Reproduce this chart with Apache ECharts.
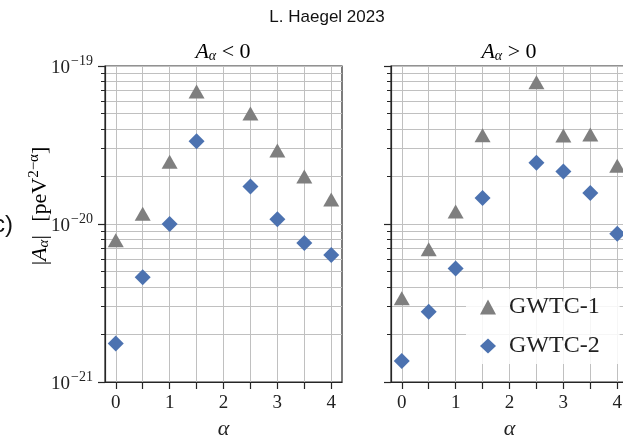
<!DOCTYPE html>
<html>
<head>
<meta charset="utf-8">
<script src="https://cdn.jsdelivr.net/npm/echarts@6/dist/echarts.min.js"></script>
<style>html,body{margin:0;padding:0;background:#fff;}#c{width:623px;height:436px;}</style>
</head>
<body>
<div id="c"></div>
<script>
const alphas = [0, 0.5, 1, 1.5, 2.5, 3, 3.5, 4];
const negGWTC1 = [7.9e-21, 1.16e-20, 2.48e-20, 6.9e-20, 5.0e-20, 2.92e-20, 2.0e-20, 1.43e-20];
const negGWTC2 = [1.75e-21, 4.6e-21, 1.0e-20, 3.34e-20, 1.73e-20, 1.07e-20, 7.57e-21, 6.37e-21];
const posGWTC1 = [3.39e-21, 6.93e-21, 1.2e-20, 3.65e-20, 7.9e-20, 3.63e-20, 3.68e-20, 2.34e-20];
const posGWTC2 = [1.36e-21, 2.78e-21, 5.22e-21, 1.46e-20, 2.44e-20, 2.15e-20, 1.57e-20, 8.67e-21];
const xTickValues = [0, 0.5, 1, 1.5, 2, 2.5, 3, 3.5, 4];
const xLabelValues = [0, 1, 2, 3, 4];
const yMajorValues = [1e-21, 1e-20, 1e-19];
const yMinorValues = [2e-21,3e-21,4e-21,5e-21,6e-21,7e-21,8e-21,9e-21,2e-20,3e-20,4e-20,5e-20,6e-20,7e-20,8e-20,9e-20];
const seriesNames = ['GWTC-1', 'GWTC-2'];

const SERIF = '"Liberation Serif", "DejaVu Serif", serif';
const GRID_C = '#c0c0c0';
const AX_C = '#262626';
const TRI_C = '#7f7f7f';
const DIA_C = '#4c72b0';

const chart = echarts.init(document.getElementById('c'), null, {renderer: 'canvas'});

function zip(xs, ys) { return xs.map((x, i) => [x, ys[i]]); }

const grids = [
  {left: 105, top: 66, width: 237, height: 316, show: true, borderColor: AX_C, borderWidth: 1.2, backgroundColor: 'transparent', containLabel: false, outerBoundsMode: 'none'},
  {left: 391, top: 66, width: 237, height: 316, show: true, borderColor: AX_C, borderWidth: 1.2, backgroundColor: 'transparent', containLabel: false, outerBoundsMode: 'none'}
];

function xAxisFor(gi) {
  return {
    type: 'value', gridIndex: gi, min: -0.2, max: 4.2, position: 'bottom',
    name: 'α', nameLocation: 'middle', nameGap: 36,
    nameTextStyle: {fontFamily: SERIF, fontStyle: 'italic', fontSize: 22, color: '#222'},
    axisLine: {show: true, onZero: false, lineStyle: {color: AX_C, width: 1.2}},
    axisTick: {show: true, length: 7, lineStyle: {color: AX_C, width: 1.2}, customValues: xTickValues},
    axisLabel: {show: true, customValues: xLabelValues, fontFamily: SERIF, fontSize: 19, color: '#222', margin: 12},
    splitLine: {show: true, lineStyle: {color: GRID_C, width: 1}}
  };
}
function yAxesFor(gi) {
  return [{
    type: 'log', logBase: 10, gridIndex: gi, min: 1e-21, max: 1e-19, position: 'left',
    axisLine: {show: true, onZero: false, lineStyle: {color: AX_C, width: 1.2}},
    axisTick: {show: true, length: 7, lineStyle: {color: AX_C, width: 1.2}, customValues: yMajorValues},
    axisLabel: {show: gi === 0, customValues: yMajorValues, margin: 12,
      formatter: v => '{b|10}{s|−' + Math.round(-Math.log10(v)) + '}',
      rich: {b: {fontFamily: SERIF, fontSize: 19, color: '#222', verticalAlign: 'bottom'},
             s: {fontFamily: SERIF, fontSize: 14, color: '#222', verticalAlign: 'top', padding: [0,0,10,1]}}},
    splitLine: {show: true, lineStyle: {color: GRID_C, width: 1}}
  }, {
    type: 'log', logBase: 10, gridIndex: gi, min: 1e-21, max: 1e-19, position: 'left', offset: 0,
    axisLine: {show: false, onZero: false},
    axisTick: {show: true, length: 4, lineStyle: {color: AX_C, width: 1}, customValues: yMinorValues},
    axisLabel: {show: false},
    splitLine: {show: true, lineStyle: {color: GRID_C, width: 1}}
  }];
}

const series = [];
const sets = [[negGWTC1, negGWTC2], [posGWTC1, posGWTC2]];
sets.forEach((pair, gi) => {
  series.push({name: seriesNames[0], type: 'scatter', xAxisIndex: gi, yAxisIndex: gi * 2,
    symbol: 'triangle', symbolSize: [16, 14], itemStyle: {color: TRI_C, opacity: 1}, data: zip(alphas, pair[0]), z: 3});
  series.push({name: seriesNames[1], type: 'scatter', xAxisIndex: gi, yAxisIndex: gi * 2,
    symbol: 'diamond', symbolSize: [16, 16], itemStyle: {color: DIA_C, opacity: 1}, data: zip(alphas, pair[1]), z: 4});
});

const subTitle = (op) => ({
  type: 'text',
  style: {text: '{i|A}{s|α}{n| ' + op + ' 0}', textAlign: 'center', textVerticalAlign: 'middle',
    rich: {i: {fontFamily: SERIF, fontStyle: 'italic', fontSize: 22, color: '#222'},
           s: {fontFamily: SERIF, fontStyle: 'italic', fontSize: 14, color: '#222', padding: [9,0,0,0]},
           n: {fontFamily: SERIF, fontSize: 22, color: '#222'}}}
});

const option = {
  animation: false,
  backgroundColor: '#fff',
  grid: grids,
  xAxis: [xAxisFor(0), xAxisFor(1)],
  yAxis: [...yAxesFor(0), ...yAxesFor(1)],
  legend: {
    data: seriesNames, orient: 'vertical', left: 466, top: 289,
    backgroundColor: 'rgba(255,255,255,0.85)', borderWidth: 0, padding: [6, 20, 6, 14],
    itemWidth: 16, itemHeight: 15, itemGap: 15,
    textStyle: {fontFamily: SERIF, fontSize: 24, color: '#222', padding: [0, 0, 0, 8]}
  },
  series: series,
  graphic: [
    {type: 'text', x: 327, y: 17, style: {text: 'L. Haegel 2023', font: '17px "Liberation Sans", Arial, sans-serif', fill: '#111', textAlign: 'center', textVerticalAlign: 'middle'}},
    Object.assign(subTitle('<'), {x: 223, y: 52}),
    Object.assign(subTitle('>'), {x: 509, y: 52}),
    {type: 'text', x: 13, y: 225, style: {text: '(c)', font: '24px "Liberation Sans", Arial, sans-serif', fill: '#111', textAlign: 'right', textVerticalAlign: 'middle'}},
    {type: 'text', x: 40, y: 206, rotation: Math.PI / 2,
      style: {text: '{t||}{i|A}{s|α}{t||}    {t|[peV}{p|2−α}{t|]}', textAlign: 'center', textVerticalAlign: 'middle',
        rich: {t: {fontFamily: SERIF, fontSize: 22, color: '#222'},
               i: {fontFamily: SERIF, fontStyle: 'italic', fontSize: 22, color: '#222'},
               s: {fontFamily: SERIF, fontStyle: 'italic', fontSize: 15, color: '#222', padding: [9,0,0,0]},
               p: {fontFamily: SERIF, fontSize: 15, color: '#222', padding: [0,0,12,0]}}}}
  ]
};
chart.setOption(option);
</script>
</body>
</html>
